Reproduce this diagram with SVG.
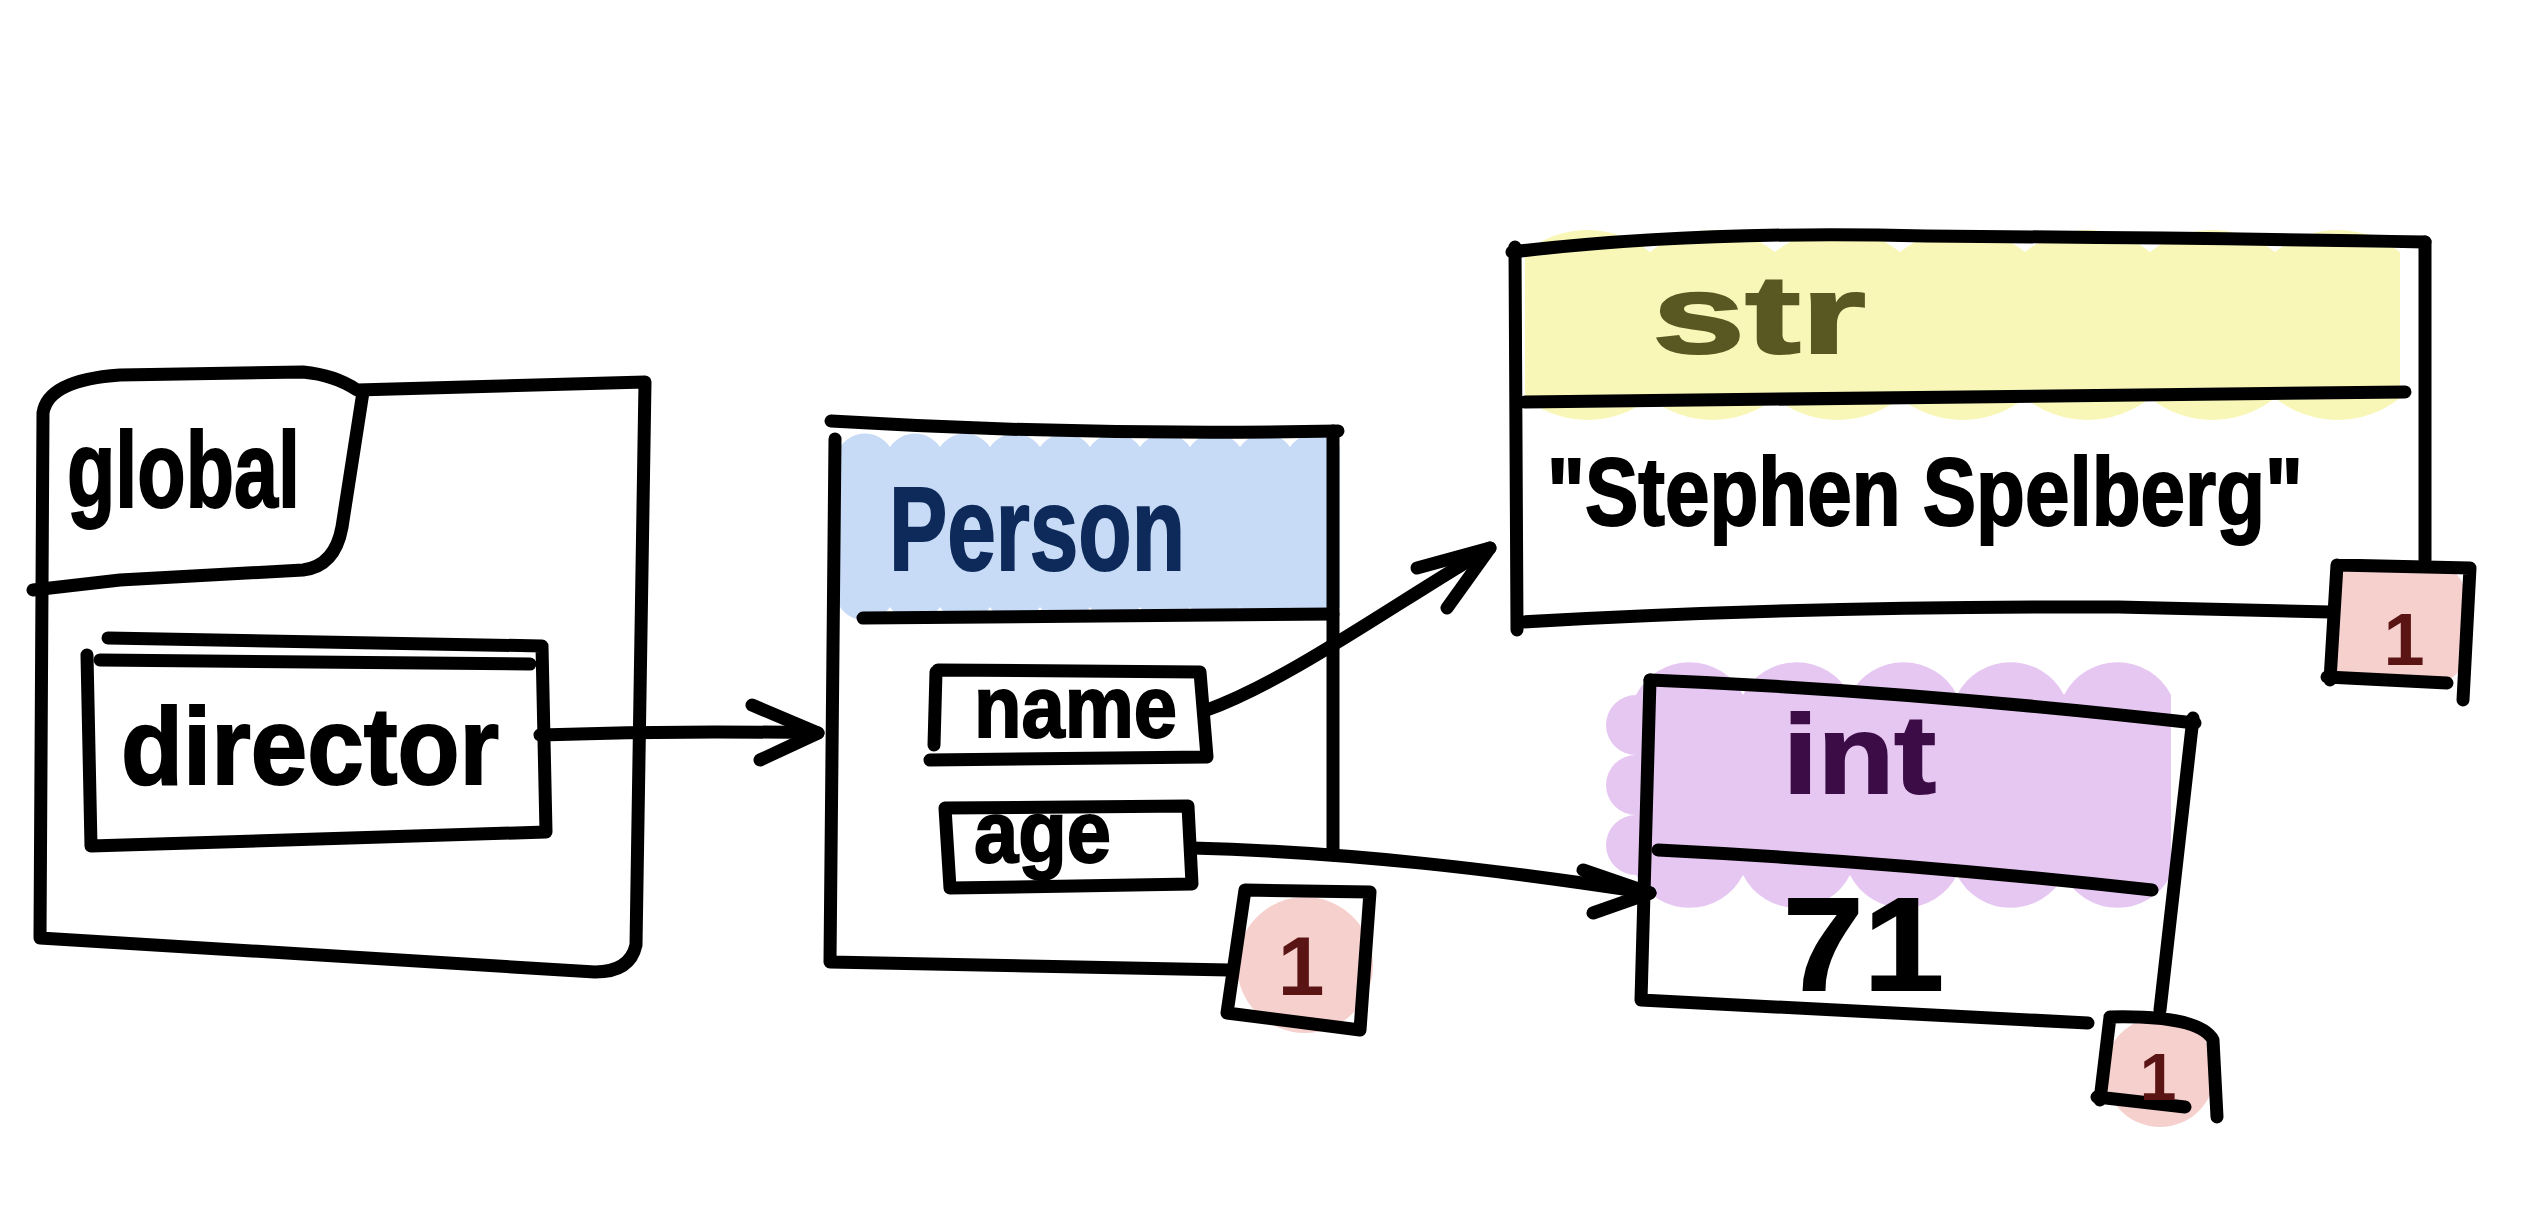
<svg xmlns="http://www.w3.org/2000/svg" width="2548" height="1214" viewBox="0 0 2548 1214">
<defs>
<style>
.ln{fill:none;stroke:#000;stroke-width:13;stroke-linecap:round;stroke-linejoin:round}
.tx{font-family:"Liberation Sans","Noto Sans",sans-serif;font-weight:bold;fill:#000;stroke:#000;stroke-width:2}
.one{font-family:"Liberation Sans","Noto Sans",sans-serif;font-weight:bold;fill:#5a1414;text-anchor:middle}
.pink{fill:#f6d0cd}
</style>
</defs>
<rect width="2548" height="1214" fill="#fff"/>

<g id="global">
<path class="ln" d="M43,413 Q48,380 120,375 L303,372 Q335,375 357,390 L645,382 L636,945 Q630,972 595,972 L40,938 L43,413"/>
<path class="ln" d="M363,392 L342,527 Q335,566 303,570 L120,580 L33,590"/>
<text class="tx" x="67" y="507" font-size="108" textLength="233" lengthAdjust="spacingAndGlyphs">global</text>
</g>

<g id="director">
<path class="ln" d="M108,638 L542,646 L546,832 L91,846 L87,655"/>
<path class="ln" d="M100,660 L530,664"/>
<text class="tx" x="121" y="784" font-size="110" textLength="378" lengthAdjust="spacingAndGlyphs">director</text>
</g>

<g id="person">
<path fill="#c7dbf6" d="M840,607 a25 25 0 0 1 0 -40 a25 25 0 0 1 0 -40 a25 25 0 0 1 0 -40 a25 25 0 0 1 0 -40 a30 30 0 0 1 50 0 a30 30 0 0 1 50 0 a30 30 0 0 1 50 0 a30 30 0 0 1 50 0 a30 30 0 0 1 50 0 a30 30 0 0 1 50 0 a30 30 0 0 1 50 0 a30 30 0 0 1 50 0 a30 30 0 0 1 50 0 a30 30 0 0 1 50 0 v160 a30 30 0 0 1 -50 0 a30 30 0 0 1 -50 0 a30 30 0 0 1 -50 0 a30 30 0 0 1 -50 0 a30 30 0 0 1 -50 0 a30 30 0 0 1 -50 0 a30 30 0 0 1 -50 0 a30 30 0 0 1 -50 0 a30 30 0 0 1 -50 0 a30 30 0 0 1 -50 0 Z"/>
<path class="ln" d="M831,421 Q1080,436 1338,431"/>
<path class="ln" d="M835,439 L830,962 L1229,970"/>
<path class="ln" d="M1333,431 L1333,855"/>
<path class="ln" d="M863,618 L1333,614"/>
<text class="tx" x="889" y="570" font-size="118" textLength="296" lengthAdjust="spacingAndGlyphs" style="fill:#0e2a5a;stroke:#0e2a5a">Person</text>
<path class="ln" d="M938,670 L1200,672 L1207,757 L930,760 M936,672 L934,745"/>
<text class="tx" x="974" y="737" font-size="88" textLength="203" lengthAdjust="spacingAndGlyphs">name</text>
<path class="ln" d="M945,808 L1188,806 L1192,884 L950,888 Z"/>
<text class="tx" x="974" y="862" font-size="88" textLength="137" lengthAdjust="spacingAndGlyphs">age</text>
</g>

<g id="person-refcount">
<circle class="pink" cx="1305" cy="965" r="68"/>
<path class="ln" d="M1245,890 L1370,892 L1360,1030 L1227,1013 Z"/>
<text class="one" x="1301" y="995" font-size="84">1</text>
</g>

<g id="str">
<path fill="#f9f7b8" d="M1525,398 v-146 a100 100 0 0 1 125 0 a100 100 0 0 1 125 0 a100 100 0 0 1 125 0 a100 100 0 0 1 125 0 a100 100 0 0 1 125 0 a100 100 0 0 1 125 0 a100 100 0 0 1 125 0 v146 a100 100 0 0 1 -125 0 a100 100 0 0 1 -125 0 a100 100 0 0 1 -125 0 a100 100 0 0 1 -125 0 a100 100 0 0 1 -125 0 a100 100 0 0 1 -125 0 a100 100 0 0 1 -125 0 Z"/>
<path class="ln" d="M1512,252 Q1700,230 1926,236 Q2200,238 2425,242"/>
<path class="ln" d="M1515,247 L1517,630"/>
<path class="ln" d="M2425,242 L2425,560"/>
<path class="ln" d="M1525,402 L2405,392"/>
<path class="ln" d="M1522,622 Q1800,606 2118,607 L2330,612"/>
<text class="tx" x="1652" y="353" font-size="112" textLength="214" lengthAdjust="spacingAndGlyphs" style="fill:#5a5822;stroke:#5a5822">str</text>
<text class="tx" x="1547" y="525" font-size="96" textLength="756" lengthAdjust="spacingAndGlyphs">"Stephen Spelberg"</text>
</g>

<g id="str-refcount">
<rect class="pink" x="2330" y="565" width="135" height="118" rx="30"/>
<path class="ln" d="M2337,565 L2470,568 L2463,700 M2337,565 L2330,680 M2327,677 L2447,683"/>
<text class="one" x="2404" y="665" font-size="74">1</text>
</g>

<g id="int">
<path fill="#e6c7f2" d="M1636,875 a30 30 0 0 1 0 -60 a30 30 0 0 1 0 -60 a30 30 0 0 1 0 -60 a60 60 0 0 1 107 0 a60 60 0 0 1 107 0 a60 60 0 0 1 107 0 a60 60 0 0 1 107 0 a60 60 0 0 1 107 0 v180 a60 60 0 0 1 -107 0 a60 60 0 0 1 -107 0 a60 60 0 0 1 -107 0 a60 60 0 0 1 -107 0 a60 60 0 0 1 -107 0 Z"/>
<path class="ln" d="M1650,680 Q1900,690 2195,723"/>
<path class="ln" d="M1650,680 L1641,1000 L2088,1023"/>
<path class="ln" d="M2193,718 L2160,1010"/>
<path class="ln" d="M1658,850 Q1900,862 2152,890"/>
<text class="tx" x="1783" y="793" font-size="112" textLength="153" lengthAdjust="spacingAndGlyphs" style="fill:#3b0c46;stroke:#3b0c46">int</text>
<text class="tx" x="1783" y="990" font-size="132" textLength="161" lengthAdjust="spacingAndGlyphs">71</text>
</g>

<g id="int-refcount">
<circle class="pink" cx="2160" cy="1072" r="55"/>
<path class="ln" d="M2110,1017 Q2200,1015 2213,1040 L2217,1117 M2110,1017 L2100,1100 M2097,1097 L2185,1107"/>
<text class="one" x="2158" y="1100" font-size="66">1</text>
</g>

<g id="connectors">
<path class="ln" d="M540,735 Q680,730 818,733"/>
<path class="ln" d="M752,705 L818,733 L760,760"/>
<path class="ln" d="M1207,710 C1290,680 1400,600 1490,548"/>
<path class="ln" d="M1417,568 L1490,548 L1447,608"/>
<path class="ln" d="M1192,848 C1350,852 1500,870 1650,893"/>
<path class="ln" d="M1583,870 L1650,893 L1593,913"/>
</g>
</svg>
